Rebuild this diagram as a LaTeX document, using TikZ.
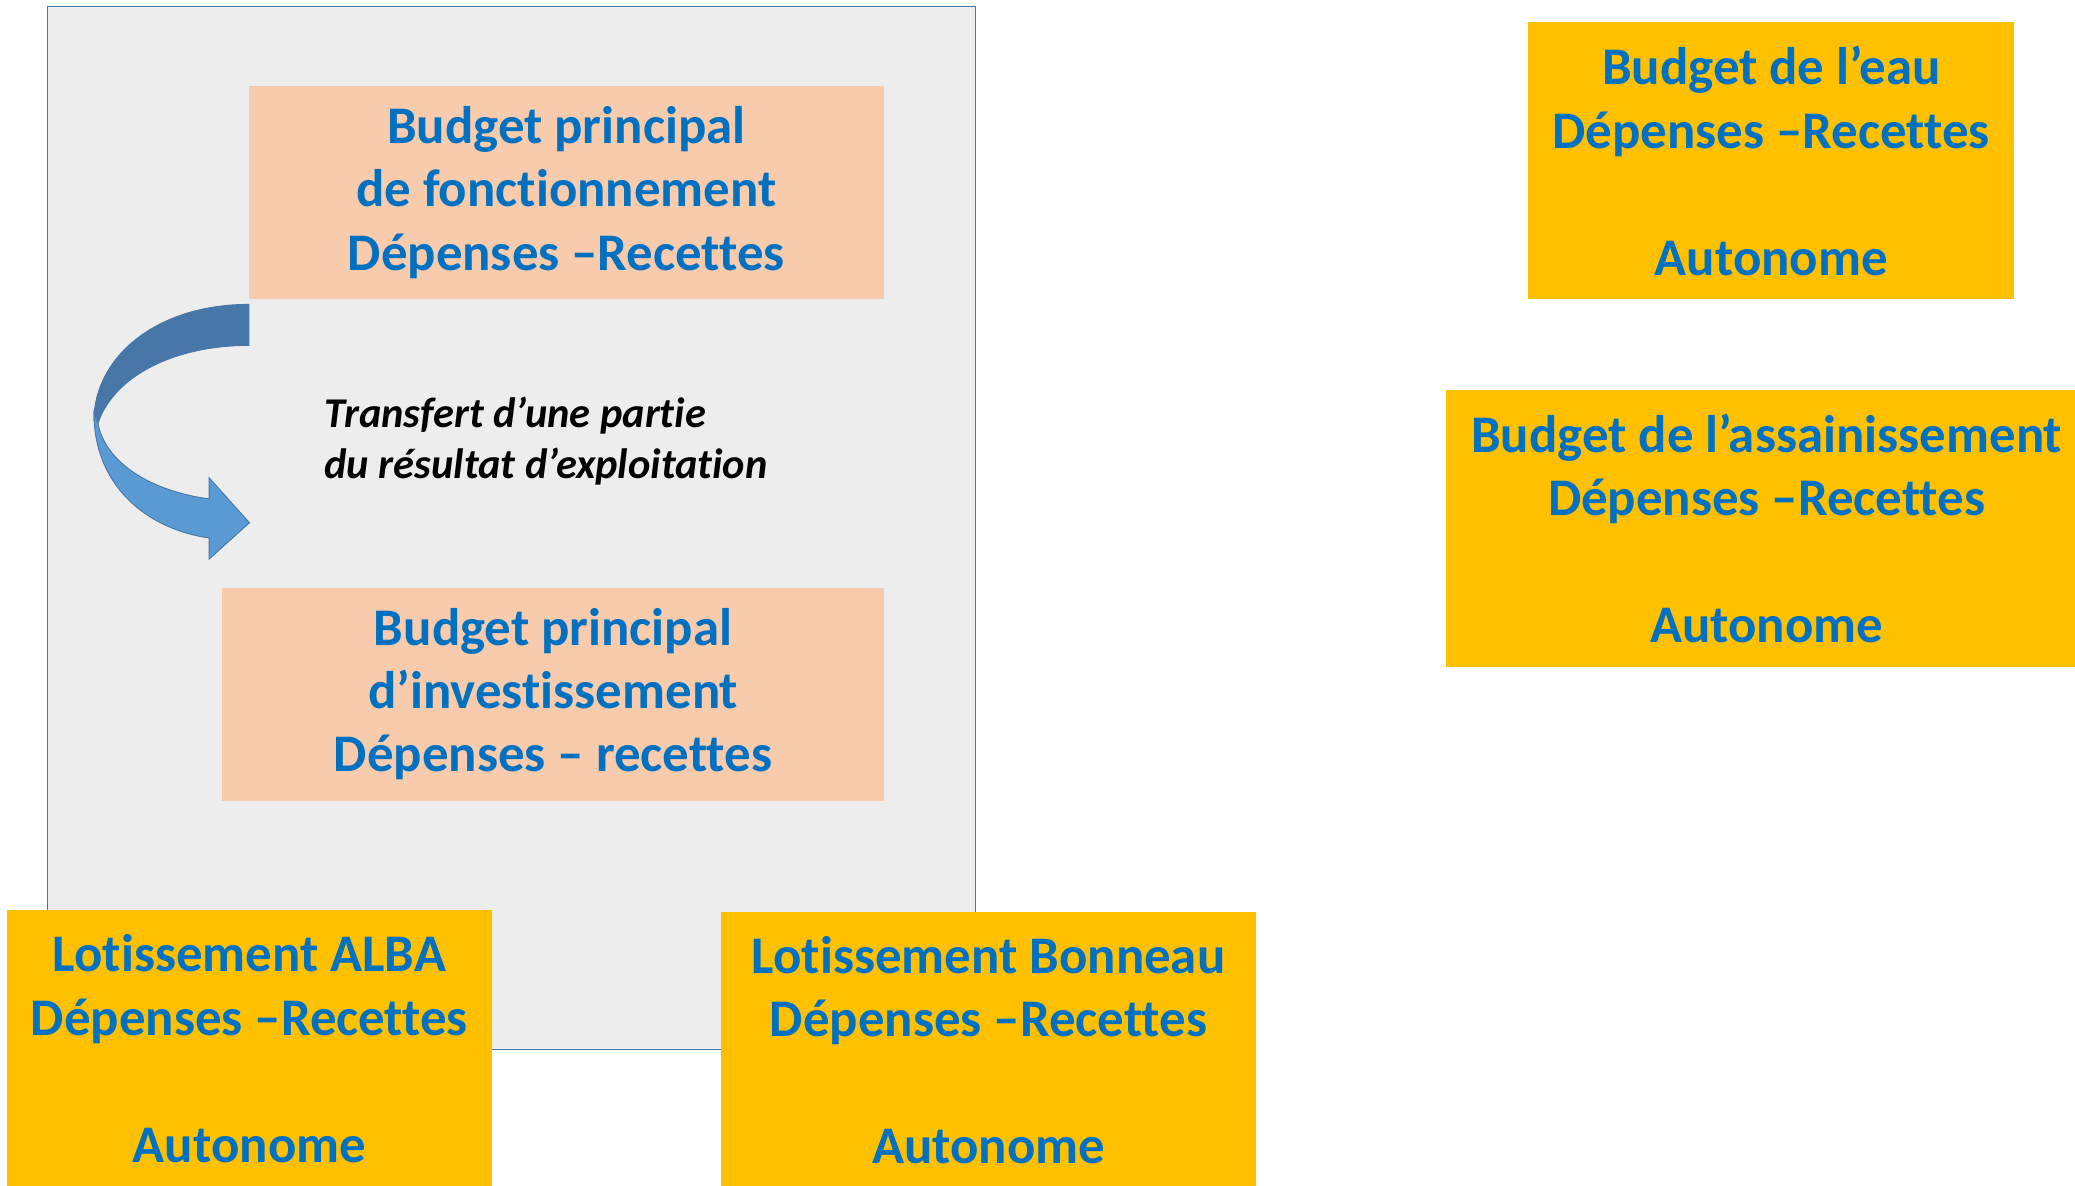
\documentclass[tikz,border=0pt]{standalone}
\usepackage{fontspec}
\setmainfont{Carlito}[RawFeature={-liga;-clig;-calt;-dlig}]
\definecolor{fond}{HTML}{EDEDED}
\definecolor{cadre}{HTML}{4A76A8}
\definecolor{peche}{HTML}{F8CBAD}
\definecolor{ambre}{HTML}{FFC000}
\definecolor{bleutexte}{HTML}{0070C0}
\definecolor{flechesombre}{HTML}{4677A8}
\definecolor{flecheclaire}{HTML}{5B9BD5}
\begin{document}
\begin{tikzpicture}[x=0.025cm, y=-0.025cm]

      \clip (0,0) rectangle (1568,896);
      \fill[white] (0,0) rectangle (1568,896);

      \node[draw=cadre, fill=fond, line width=1pt, inner sep=0pt,
            minimum width=17.525cm, minimum height=19.7cm] (0) at (386.5,399) {};

      \begin{scope}[every node/.style={inner sep=0pt, align=center, text=bleutexte,
                    font=\bfseries\fontsize{28.4}{34.1}\selectfont}]
        \begin{scope}[every node/.append style={fill=peche, minimum height=4.025cm}]
          \node[minimum width=12cm]   (1) at (428,145.5) {Budget principal\\de fonctionnement\\Dépenses –Recettes};
          \node[minimum width=12.5cm] (2) at (418,524.5) {Budget principal\\d’investissement\\Dépenses – recettes};
        \end{scope}
        \begin{scope}[every node/.append style={fill=ambre, minimum height=5.225cm}]
          \node[minimum width=9.175cm] (3) at (1338.5,121.5) {Budget de l’eau\\Dépenses –Recettes\\\\Autonome};
          \node[minimum width=12.1cm]  (4) at (1335,399.5)   {Budget de l’assainissement\\Dépenses –Recettes\\\\Autonome};
          \node[minimum width=9.175cm] (5) at (188.5,792.5)  {Lotissement ALBA\\Dépenses –Recettes\\\\Autonome};
          \node[minimum width=10.1cm]  (6) at (747,793.5)    {Lotissement Bonneau\\Dépenses –Recettes\\\\Autonome};
        \end{scope}
      \end{scope}

      \node[anchor=west, align=left, inner sep=0pt,
            font=\bfseries\itshape\fontsize{22.8}{27.5}\selectfont] (7) at (245,333)
            {Transfert d’une partie\\du résultat d’exploitation};

      % fleche courbe
      \filldraw[fill=flechesombre, draw=cadre, line width=.5pt]
        (188,230) .. controls (118,230) and (71,270) .. (71,318)
        -- (74,320) .. controls (86,284) and (132,261) .. (188,261) -- cycle;
      \filldraw[fill=flecheclaire, draw=cadre, line width=.5pt]
        (71,312) .. controls (71,368) and (112,400) .. (158,406.5)
        -- (158,422.5) -- (188.5,395) -- (158,361) -- (158,377)
        .. controls (114,371) and (80,350) .. (74,320) -- cycle;

    \end{tikzpicture}
\end{document}
